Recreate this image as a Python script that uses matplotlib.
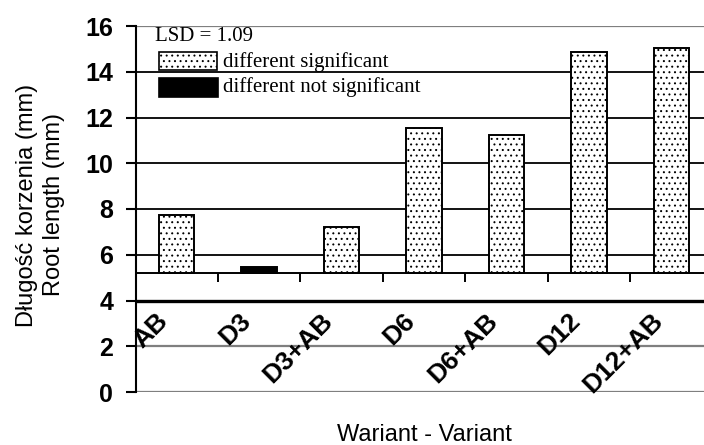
import matplotlib
matplotlib.use("Agg")
import matplotlib.pyplot as plt
from matplotlib.patches import Rectangle
import numpy as np

# ---- data ----
categories = ["AB", "D3", "D3+AB", "D6", "D6+AB", "D12", "D12+AB"]
values = [7.73, 5.47, 7.23, 11.53, 11.22, 14.86, 15.02]
significant = [True, False, True, True, True, True, True]
baseline = 5.22
yticks = [0, 2, 4, 6, 8, 10, 12, 14, 16]
lsd_text = "LSD = 1.09"
legend_labels = ["different significant", "different not significant"]
ylabel_lines = ["Długość korzenia (mm)", "Root length (mm)"]
xlabel = "Wariant - Variant"

W, H = 704, 445
plt.rcParams["font.family"] = ["Liberation Sans", "DejaVu Sans"]
plt.rcParams["hatch.linewidth"] = 0.7
fig = plt.figure(figsize=(W / 100, H / 100), dpi=100)

def fx(px):
    return px / W

def fy(py):
    return (H - py) / H

ax_left, ax_right, ax_top, ax_bot = 135.5, 712.5, 26, 392
ax = fig.add_axes([fx(ax_left), fy(ax_bot), (ax_right - ax_left) / W, (ax_bot - ax_top) / H])
ax.set_xlim(-0.5, len(categories) - 0.5)
ax.set_ylim(0, 16)

# grid lines
for yv in yticks:
    if yv in (0, 2, 16):
        ax.axhline(yv, color="#7f7f7f", lw=1.6, zorder=0.5)
    elif yv == 4:
        ax.axhline(yv, color="black", lw=2.4, zorder=0.5)
    else:
        ax.axhline(yv, color="black", lw=1.3, zorder=0.5)

x = np.arange(len(categories))
heights = [v - baseline for v in values]
for xi, h, sig in zip(x, heights, significant):
    if sig:
        ax.bar(xi, h, bottom=baseline, width=0.43, facecolor="white",
               edgecolor="black", hatch="...", lw=1.4, zorder=2)
    else:
        ax.bar(xi, h, bottom=baseline, width=0.43, facecolor="black",
               edgecolor="black", lw=1.4, zorder=2)

# category axis at baseline
ax.axhline(baseline, color="black", lw=1.4, zorder=3)
bounds = np.arange(0.5, len(categories) - 0.5, 1.0)
ax.vlines(bounds, baseline - 0.40, baseline, color="black", lw=1.4, zorder=3)

for xi, lab in zip(x, categories):
    ax.text(xi - 0.15, 3.28, lab, rotation=45, rotation_mode="anchor",
            ha="right", va="center", fontsize=19, fontweight="bold", zorder=4)

# axes styling
for s in ("top", "right", "bottom"):
    ax.spines[s].set_visible(False)
ax.spines["left"].set_linewidth(1.5)
ax.spines["left"].set_zorder(5)
ax.set_xticks([])
ax.set_yticks(yticks)
ax.set_yticklabels([str(v) for v in yticks], fontsize=18, fontweight="bold")
ax.tick_params(axis="y", direction="out", length=7.2, width=1.5, pad=9)

# y label (two lines)
fig.text(fx(40.5), fy(205), "\n".join(ylabel_lines), rotation=90,
         ha="center", va="center", fontsize=17, linespacing=1.25,
         multialignment="center")
fig.text(fx(424), fy(441), xlabel, ha="center", va="baseline", fontsize=17)

# legend (manual)
serif = ["Liberation Serif", "DejaVu Serif"]
fig.text(fx(155), fy(36.7), lsd_text, ha="left", va="center", fontsize=15,
         family=serif)
fig.patches.append(Rectangle((fx(158.7), fy(70)), fx(216.7) - fx(158.7), fy(52.3) - fy(70),
                             transform=fig.transFigure, facecolor="white",
                             edgecolor="black", hatch="...", lw=1.2))
fig.patches.append(Rectangle((fx(158.7), fy(96.7)), fx(218) - fx(158.7), fy(78.3) - fy(96.7),
                             transform=fig.transFigure, facecolor="black",
                             edgecolor="black", lw=1.2))
fig.text(fx(223), fy(62), legend_labels[0], ha="left", va="center", fontsize=15,
         family=serif)
fig.text(fx(223), fy(87), legend_labels[1], ha="left", va="center", fontsize=15,
         family=serif)

fig.savefig("out.png", dpi=100)
